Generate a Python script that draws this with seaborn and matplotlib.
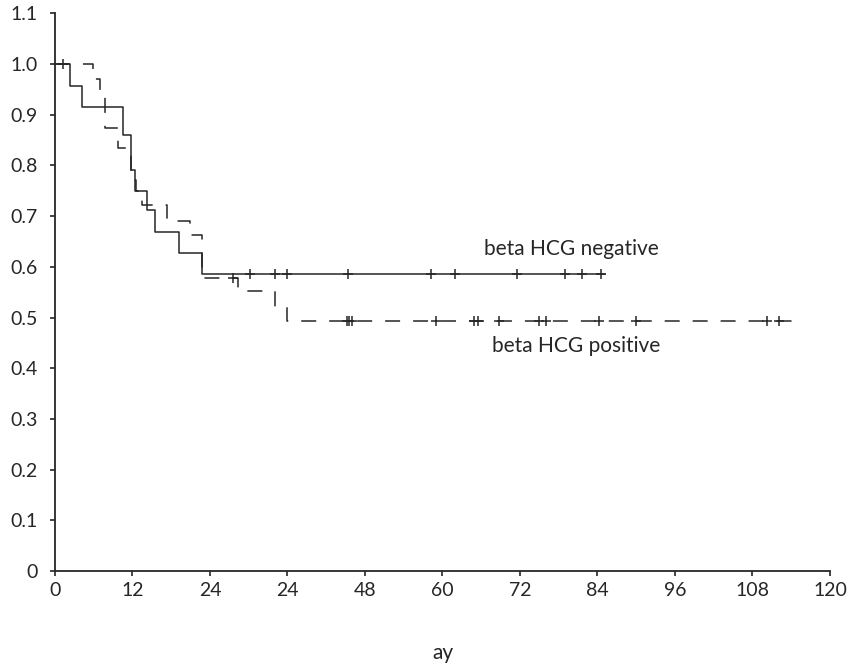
import numpy as np
import pandas as pd
import seaborn as sns
import matplotlib
matplotlib.use("Agg")
import matplotlib.pyplot as plt

# Kaplan-Meier steps (months, survival after the step)
neg_times = [0, 2.4, 4.2, 10.6, 11.75, 12.4, 14.2, 15.5, 19.2, 22.7]
neg_surv = [1.0, 0.957, 0.915, 0.86, 0.79, 0.75, 0.712, 0.669, 0.627, 0.585]
neg_end = 85.1
neg_censor = [1.3, 30.2, 34.1, 35.9, 45.3, 58.2, 61.9, 71.5, 79.0, 81.6, 84.6]

pos_times = [0, 5.9, 7.0, 7.8, 9.8, 11.75, 12.6, 13.4, 17.3, 20.9, 22.7, 28.3, 34.0, 35.9]
pos_surv = [1.0, 0.970, 0.942, 0.873, 0.834, 0.771, 0.75, 0.721, 0.691, 0.663, 0.578,
            0.552, 0.521, 0.494]
pos_end = 115.7
pos_censor = [27.5, 45.2, 45.6, 46.0, 59.0, 64.9, 65.5, 68.7, 75.0, 76.1, 84.2, 90.0,
              110.3, 112.1]

xtick_pos = [0, 12, 24, 36, 48, 60, 72, 84, 96, 108, 120]
xtick_labels = ["0", "12", "24", "24", "48", "60", "72", "84", "96", "108", "120"]
ytick_pos = [0, 0.1, 0.2, 0.3, 0.4, 0.5, 0.6, 0.7, 0.8, 0.9, 1.0, 1.1]
ytick_labels = ["0", "0.1", "0.2", "0.3", "0.4", "0.5", "0.6", "0.7", "0.8", "0.9", "1.0", "1.1"]


def step_frame(times, surv, end):
    return pd.DataFrame({"time": list(times) + [end], "surv": list(surv) + [surv[-1]]})


def censor_frame(times, surv, censor):
    # place each censor mark on the curve at that time
    idx = np.searchsorted(times, censor, side="right") - 1
    return pd.DataFrame({"time": censor, "surv": np.array(surv)[idx]})


sns.set_style("white")
plt.rcParams["font.family"] = ["Lato", "DejaVu Sans"]

ink = "#262626"
fig = plt.figure(figsize=(8.47, 6.68), dpi=100)
ax = fig.add_axes([0.0649, 0.1452, 0.9150, 0.8349])

sns.lineplot(data=step_frame(neg_times, neg_surv, neg_end), x="time", y="surv",
             drawstyle="steps-post", estimator=None, sort=False,
             color=ink, linewidth=1.1, ax=ax)
sns.lineplot(data=step_frame(pos_times, pos_surv, pos_end), x="time", y="surv",
             drawstyle="steps-post", estimator=None, sort=False,
             color=ink, linewidth=1.1, linestyle=(0, (9.8, 8.5)), ax=ax)

sns.scatterplot(data=censor_frame(neg_times, neg_surv, neg_censor), x="time", y="surv",
                marker="+", s=45, linewidth=1.1, color=ink, ax=ax, zorder=3)
sns.scatterplot(data=censor_frame(pos_times, pos_surv, pos_censor), x="time", y="surv",
                marker="+", s=45, linewidth=1.1, color=ink, ax=ax, zorder=3)

ax.text(66.4, 0.623, "beta HCG negative", fontsize=15, color=ink)
ax.text(67.6, 0.432, "beta HCG positive", fontsize=15, color=ink)

ax.set_xlim(0, 120)
ax.set_ylim(0, 1.1)
ax.set_xticks(xtick_pos)
ax.set_xticklabels(xtick_labels)
ax.set_yticks(ytick_pos)
ax.set_yticklabels(ytick_labels)
ax.tick_params(axis="both", direction="out", length=3.6, width=1.2, colors=ink,
               labelsize=14, bottom=True, left=True)
ax.tick_params(axis="y", pad=9)
ax.tick_params(axis="x", pad=4)
ax.set_xlabel("ay", fontsize=15, color=ink, labelpad=32)
ax.set_ylabel("")

sns.despine(ax=ax)
for side in ("left", "bottom"):
    ax.spines[side].set_linewidth(1.3)
    ax.spines[side].set_color(ink)

fig.savefig("out.png", dpi=100)
